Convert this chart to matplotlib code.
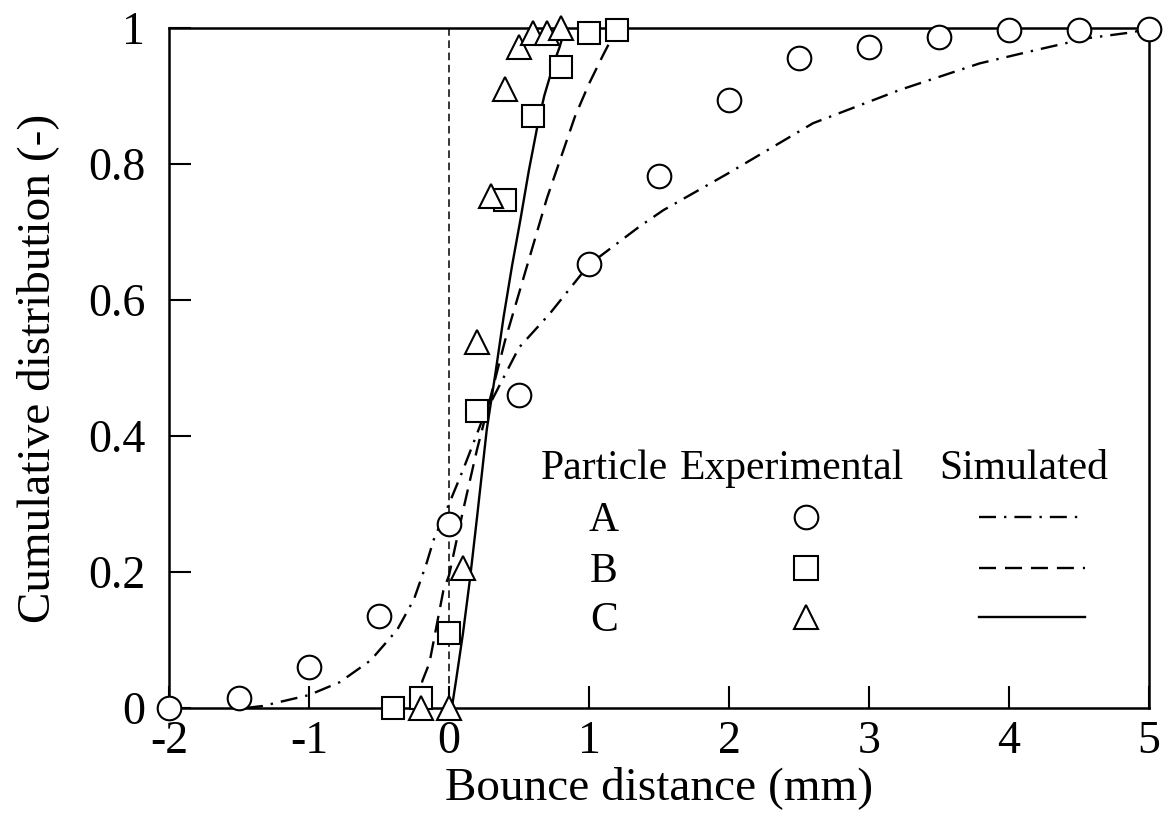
import numpy as np
import matplotlib
matplotlib.use('Agg')
import matplotlib.pyplot as plt

plt.rcParams['font.family'] = ['Liberation Serif', 'DejaVu Serif']
plt.rcParams['axes.unicode_minus'] = False

# experimental points (bounce distance in mm, cumulative distribution)
exp_a_x = [-2.0, -1.5, -1.0, -0.5, 0.0, 0.5, 1.0, 1.5, 2.0, 2.5, 3.0, 3.5, 4.0, 4.5, 5.0]
exp_a_y = [0.0, 0.015, 0.06, 0.135, 0.27, 0.46, 0.653, 0.782, 0.894, 0.956, 0.972, 0.987, 0.997, 0.997, 0.998]

exp_b_x = [-0.4, -0.2, 0.0, 0.2, 0.4, 0.6, 0.8, 1.0, 1.2]
exp_b_y = [0.0, 0.015, 0.11, 0.437, 0.747, 0.87, 0.943, 0.993, 0.997]

exp_c_x = [-0.2, 0.0, 0.1, 0.2, 0.3, 0.4, 0.5, 0.6, 0.7, 0.8]
exp_c_y = [0.0, 0.0, 0.206, 0.538, 0.753, 0.91, 0.972, 0.993, 0.993, 1.0]

# simulated curves
sim_a_x = [-1.45, -1.33, -1.0, -0.78, -0.56, -0.37, -0.25, -0.16, -0.11, 0.0, 0.1, 0.25,
           0.5, 0.72, 1.0, 1.36, 1.53, 2.0, 2.6, 3.22, 3.79, 4.2, 4.56, 4.89, 5.0]
sim_a_y = [0.0, 0.003, 0.019, 0.038, 0.07, 0.115, 0.16, 0.213, 0.247, 0.30, 0.35, 0.43,
           0.53, 0.58, 0.652, 0.708, 0.732, 0.787, 0.86, 0.909, 0.948, 0.968, 0.985, 0.994, 1.0]

sim_b_x = [-0.23, -0.19, -0.14, -0.04, 0.0, 0.1, 0.2, 0.3, 0.4, 0.5, 0.6, 0.7, 0.8, 0.9, 1.0, 1.1, 1.2]
sim_b_y = [0.0, 0.04, 0.066, 0.173, 0.195, 0.29, 0.38, 0.46, 0.54, 0.61, 0.68, 0.75, 0.81, 0.87, 0.918, 0.96, 1.0]

sim_c_x = [0.02, 0.05, 0.1, 0.15, 0.2, 0.27, 0.33, 0.39, 0.45, 0.51, 0.57, 0.63, 0.68, 0.72, 0.76, 0.79, 0.83]
sim_c_y = [0.0, 0.04, 0.11, 0.19, 0.28, 0.41, 0.49, 0.575, 0.65, 0.718, 0.79, 0.854, 0.9, 0.928, 0.955, 0.972, 1.0]

x_ticks = [-2, -1, 0, 1, 2, 3, 4, 5]
y_ticks = [0, 0.2, 0.4, 0.6, 0.8, 1.0]
particles = ['A', 'B', 'C']

dashdot = (0, (7.2, 3.4, 1.0, 3.4))
dashed = (0, (7.2, 3.8))
styles = [dashdot, dashed, '-']
markers = ['o', 's', '^']
msizes = [17, 16, 17]

fig = plt.figure(figsize=(11.67, 8.27), dpi=100)
ax = fig.add_axes([0.1448, 0.1439, 0.8398, 0.8222])

# vertical reference line at zero
ax.plot([0, 0], [0, 1], color='black', lw=1.1, linestyle=(0, (5, 3)), zorder=1)

sims = [(sim_a_x, sim_a_y), (sim_b_x, sim_b_y), (sim_c_x, sim_c_y)]
for (sx, sy), ls in zip(sims, styles):
    ax.plot(sx, sy, color='black', lw=1.7, linestyle=ls, zorder=2)

exps = [(exp_a_x, exp_a_y), (exp_b_x, exp_b_y), (exp_c_x, exp_c_y)]
for (ex, ey), mk, ms in zip(exps, markers, msizes):
    ax.plot(ex, ey, linestyle='none', marker=mk, markersize=ms,
            markerfacecolor='white', markeredgecolor='black',
            markeredgewidth=1.5, clip_on=False, zorder=5)

ax.set_xlim(-2, 5)
ax.set_ylim(0, 1)
ax.set_xticks(x_ticks)
ax.set_xticklabels([str(t) for t in x_ticks])
ax.set_yticks(y_ticks)
ax.set_yticklabels([f'{t:g}' for t in y_ticks])

for sp in ax.spines.values():
    sp.set_linewidth(1.8)
    sp.set_zorder(3)

ax.tick_params(axis='both', direction='in', length=16, width=1.5,
               labelsize=33, top=False, right=False)
ax.tick_params(axis='x', pad=9)
ax.tick_params(axis='y', pad=17)

ax.set_xlabel('Bounce distance (mm)', fontsize=34, labelpad=2)
ax.set_ylabel('Cumulative distribution (-)', fontsize=34)
ax.yaxis.set_label_coords(-0.112, 0.5)

# hand made legend table
lt = dict(transform=ax.transAxes, fontsize=30, ha='center', va='baseline')
ax.text(0.444, 0.337, 'Particle', **lt)
ax.text(0.636, 0.337, 'Experimental', **lt)
ax.text(0.872, 0.337, 'Simulated', **lt)

row_y = [0.281, 0.206, 0.134]
for name, ry, mk, ls in zip(particles, row_y, markers, styles):
    ax.text(0.444, ry - 0.021, name, **lt)
    ax.plot([0.65], [ry], transform=ax.transAxes, linestyle='none',
            marker=mk, markersize=17, markerfacecolor='white',
            markeredgecolor='black', markeredgewidth=1.5)
    ax.plot([0.826, 0.935], [ry, ry], transform=ax.transAxes,
            color='black', lw=1.7, linestyle=ls)

fig.savefig('out.png', dpi=100)
